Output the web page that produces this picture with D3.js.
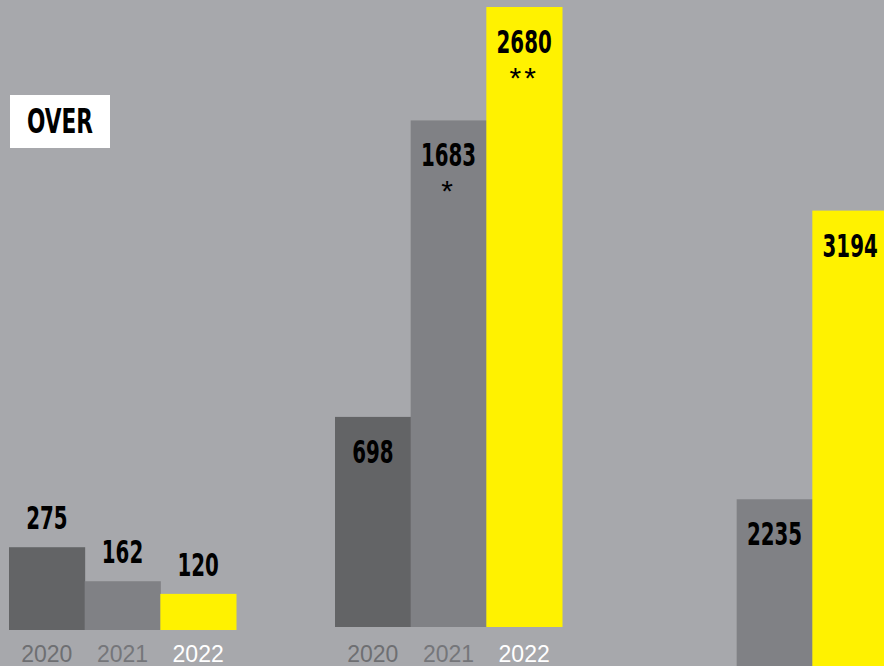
<!DOCTYPE html>
<html>
<head>
<meta charset="utf-8">
<script src="https://cdn.jsdelivr.net/npm/d3@7"></script>
<style>
  body { margin: 0; background: #a7a8ac; overflow: hidden; }
</style>
</head>
<body>
<div id="chart"></div>
<script>
// Data
const groups = ["g1", "g2", "g3"];
const years = ["2020", "2021", "2022"];
const group1Values = [275, 162, 120];
const group2Values = [698, 1683, 2680];
const group3Values = [null, 2235, 3194];
const group2Notes = ["", "*", "**"];
const badgeText = "OVER";

const width = 884, height = 666;
const barColors = { "2020": "#636466", "2021": "#808185", "2022": "#fff200" };
const yearColors = { "2020": "#6e6f72", "2021": "#75767a", "2022": "#ffffff" };
const labelFont = "'Liberation Sans Narrow', 'DejaVu Sans Condensed', sans-serif";

const svg = d3.select("#chart")
    .append("svg")
    .attr("width", width)
    .attr("height", height);

svg.append("rect")
    .attr("width", width)
    .attr("height", height)
    .attr("fill", "#a7a8ac");

// Group and bar positions
const x0 = d3.scaleBand()
    .domain(groups)
    .range([9, 888])
    .paddingInner(0.3037);

const x1 = d3.scaleBand()
    .domain(years)
    .range([0, x0.bandwidth()]);

// Same px-per-unit for every panel, each panel has its own baseline.
// The middle panel's tallest bar is cut at the top of the picture.
const pxPerUnit = 0.301;
const baselines = { g1: 630, g2: 627, g3: 1172 };
const tops = { g1: 0, g2: 7, g3: -2000 };
const yScales = {};
groups.forEach(g => {
    yScales[g] = d3.scaleLinear()
        .domain([0, (baselines[g] - tops[g]) / pxPerUnit])
        .range([baselines[g], tops[g]])
        .clamp(true);
});

const valuesByGroup = { g1: group1Values, g2: group2Values, g3: group3Values };
const notesByGroup = { g1: ["", "", ""], g2: group2Notes, g3: ["", "", ""] };

const rows = [];
groups.forEach(g => {
    years.forEach((yr, i) => {
        const v = valuesByGroup[g][i];
        if (v == null) return;
        rows.push({ group: g, year: yr, value: v, note: notesByGroup[g][i] });
    });
});

const panel = svg.selectAll("g.panel")
    .data(groups)
    .enter()
    .append("g")
    .attr("class", "panel")
    .attr("transform", g => `translate(${x0(g)},0)`);

// Bars
panel.selectAll("rect")
    .data(g => rows.filter(r => r.group === g))
    .enter()
    .append("rect")
    .attr("x", d => x1(d.year))
    .attr("y", d => yScales[d.group](d.value))
    .attr("width", x1.bandwidth() + 0.5)
    .attr("height", d => baselines[d.group] - yScales[d.group](d.value))
    .attr("fill", d => barColors[d.year]);

// Value labels: above short bars, inside tall ones
const inside = d => baselines[d.group] - yScales[d.group](d.value) > 100;
panel.selectAll("text.value")
    .data(g => rows.filter(r => r.group === g))
    .enter()
    .append("text")
    .attr("class", "value")
    .attr("x", d => x1(d.year) + x1.bandwidth() / 2)
    .attr("y", d => inside(d) ? yScales[d.group](d.value) + 46 : yScales[d.group](d.value) - 18)
    .attr("text-anchor", "middle")
    .attr("textLength", d => String(d.value).length * 13.8)
    .attr("lengthAdjust", "spacingAndGlyphs")
    .style("font-family", labelFont)
    .style("font-weight", "bold")
    .style("font-size", "32px")
    .style("fill", "#000")
    .text(d => d.value);

// Footnote markers
panel.selectAll("text.note")
    .data(g => rows.filter(r => r.group === g && r.note))
    .enter()
    .append("text")
    .attr("class", "note")
    .attr("x", d => x1(d.year) + x1.bandwidth() / 2)
    .attr("y", d => yScales[d.group](d.value) + 81)
    .attr("text-anchor", "middle")
    .style("font-family", "'Liberation Sans', Arial, sans-serif")
    .style("font-size", "30px")
    .style("letter-spacing", "3px")
    .style("fill", "#000")
    .text(d => d.note);

// Year labels under the first two panels
panel.filter(g => g !== "g3")
    .selectAll("text.year")
    .data(years)
    .enter()
    .append("text")
    .attr("class", "year")
    .attr("x", yr => x1(yr) + x1.bandwidth() / 2)
    .attr("y", 662)
    .attr("text-anchor", "middle")
    .style("font-family", "'Liberation Sans', Arial, sans-serif")
    .style("font-size", "23px")
    .style("fill", yr => yearColors[yr])
    .text(yr => yr);

// "OVER" badge
svg.append("rect")
    .attr("x", 10)
    .attr("y", 95)
    .attr("width", 100)
    .attr("height", 53)
    .attr("fill", "#fff");

svg.append("text")
    .attr("x", 60)
    .attr("y", 133)
    .attr("text-anchor", "middle")
    .attr("textLength", 66)
    .attr("lengthAdjust", "spacingAndGlyphs")
    .style("font-family", labelFont)
    .style("font-weight", "bold")
    .style("font-size", "34px")
    .style("fill", "#000")
    .text(badgeText);
</script>
</body>
</html>
